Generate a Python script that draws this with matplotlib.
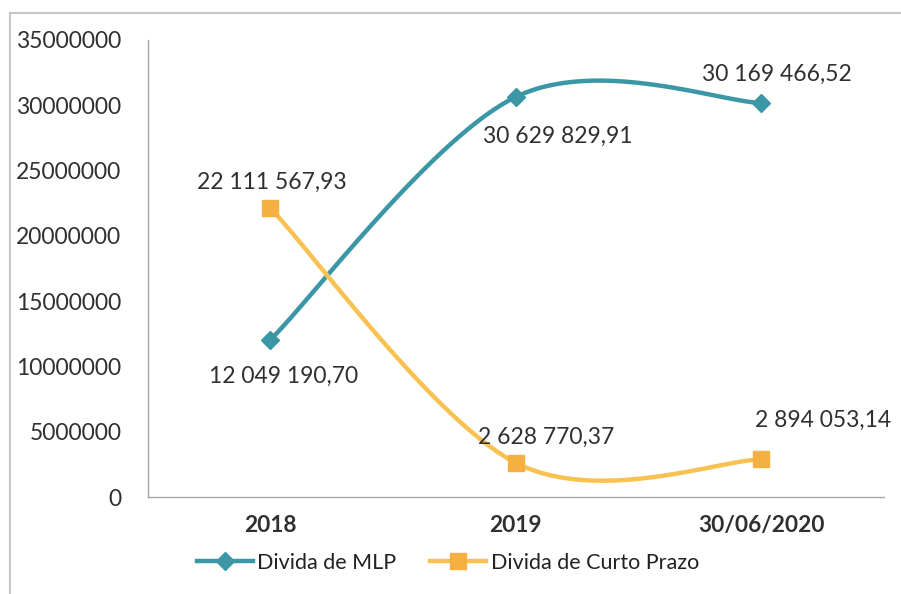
import numpy as np
import matplotlib
matplotlib.use("Agg")
import matplotlib.pyplot as plt
from matplotlib.lines import Line2D

plt.rcParams['font.family'] = ['Lato', 'DejaVu Sans']

categories = ["2018", "2019", "30/06/2020"]
mlp = [12049190.70, 30629829.91, 30169466.52]
curto = [22111567.93, 2628770.37, 2894053.14]
series_names = ["Divida de MLP", "Divida de Curto Prazo"]
y_ticks = [0, 5000000, 10000000, 15000000, 20000000, 25000000, 30000000, 35000000]

# label offsets in pixels (dx, dy)
mlp_offsets = [(13, -37), (42, -39), (16, 29)]
curto_offsets = [(1, 26), (30, 25), (62, 39)]

teal = "#3B97A6"
yellow = "#F8C253"
orange = "#F6B042"
text_col = "#303030"


def fmt(v):
    s = f"{v:,.2f}"
    return s.replace(",", " ").replace(".", ",")


def smooth(x, y, n=60):
    # Excel-like smoothed line (Catmull-Rom -> Bezier)
    x = np.asarray(x, float)
    y = np.asarray(y, float)
    pts = np.column_stack([x, y])
    out = []
    for i in range(len(pts) - 1):
        p0 = pts[i - 1] if i > 0 else pts[i]
        p1 = pts[i]
        p2 = pts[i + 1]
        p3 = pts[i + 2] if i + 2 < len(pts) else pts[i + 1]
        c1 = p1 + (p2 - p0) / 6
        c2 = p2 - (p3 - p1) / 6
        t = np.linspace(0, 1, n)[:, None]
        seg = ((1 - t) ** 3) * p1 + 3 * ((1 - t) ** 2) * t * c1 + 3 * (1 - t) * t ** 2 * c2 + t ** 3 * p2
        out.append(seg if i == 0 else seg[1:])
    seg = np.vstack(out)
    return seg[:, 0], seg[:, 1]


fig = plt.figure(figsize=(9.01, 5.94), dpi=100)
ax = fig.add_axes([0.164, 0.163, 0.817, 0.770])

xs = np.arange(len(categories))
for vals, col, mcol, mk, ms, offs in [
    (mlp, teal, teal, "D", 9, mlp_offsets),
    (curto, yellow, orange, "s", 11, curto_offsets),
]:
    sx, sy = smooth(xs, vals)
    ax.plot(sx, sy, color=col, lw=3.2, solid_capstyle="round", zorder=2)
    ax.plot(xs, vals, ls="none", marker=mk, ms=ms, color=mcol, zorder=3)
    for xi, v, (dx, dy) in zip(xs, vals, offs):
        ax.annotate(fmt(v), (xi, v), xytext=(dx, dy), textcoords="offset pixels",
                    ha="center", va="center", fontsize=16.5, color=text_col)

ax.set_xlim(-0.5, len(categories) - 0.5)
ax.set_ylim(0, 35000000)
ax.set_xticks(xs)
ax.set_xticklabels(categories, fontsize=16.3, color=text_col, fontweight="bold")
ax.set_yticks(y_ticks)
ax.set_yticklabels([str(t) for t in y_ticks], fontsize=16.5, color=text_col)
ax.tick_params(axis="y", length=0, pad=19)
ax.tick_params(axis="x", length=0, pad=13)
for s in ["top", "right"]:
    ax.spines[s].set_visible(False)
for s in ["left", "bottom"]:
    ax.spines[s].set_color("#A6A6A6")
    ax.spines[s].set_linewidth(1.0)

handles = [
    Line2D([], [], color=teal, lw=3.2, marker="D", ms=9, markerfacecolor=teal),
    Line2D([], [], color=yellow, lw=3.2, marker="s", ms=11, markerfacecolor=orange, markeredgecolor=orange),
]
fig.legend(handles, series_names, loc="center", bbox_to_anchor=(0.497, 0.053), ncol=2,
           frameon=False, fontsize=15.5, handlelength=2.6, handletextpad=0.2, columnspacing=1.6,
           labelcolor="#222222")

# scanned chart frame: only top and left edges visible
fig.add_artist(Line2D([0.011, 1.0], [0.978, 0.978], transform=fig.transFigure, color="#C8C8C8", lw=1.5))
fig.add_artist(Line2D([0.011, 0.011], [0.0, 0.978], transform=fig.transFigure, color="#C8C8C8", lw=1.5))

fig.savefig("out.png", dpi=100)
